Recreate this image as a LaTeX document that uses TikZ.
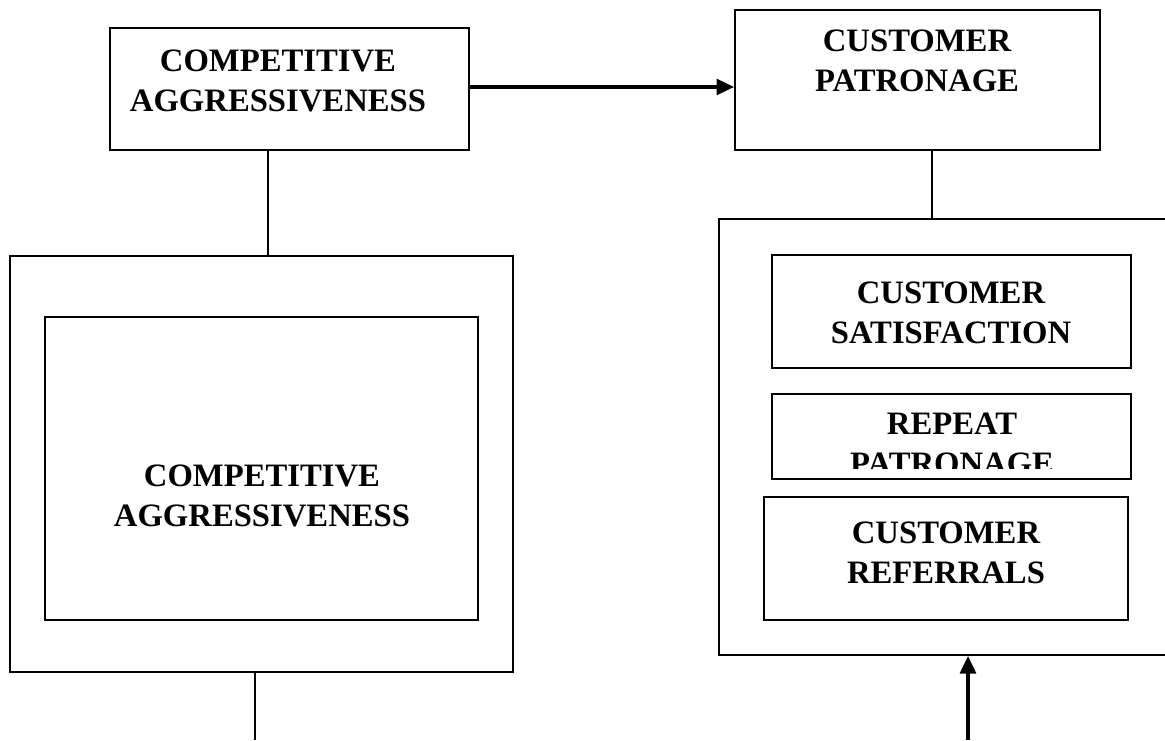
\documentclass[tikz,border=0pt]{standalone}
\usepackage{fontspec}
\setmainfont{Liberation Serif}
\usepackage{tikz}
\usetikzlibrary{arrows.meta,positioning}

\begin{document}
\begin{tikzpicture}[x=0.02cm,y=-0.02cm,>={Triangle[length=10pt,width=9pt]},
  box/.style={draw,rectangle,line width=1.1pt,inner sep=0pt},
  txt/.style={font=\fontsize{18.6}{22.5}\selectfont\bfseries,align=center,anchor=north,inner sep=0pt},
  link/.style={line width=1.1pt},
  flow/.style={->,line width=2pt}]
  \useasboundingbox (0,0) rectangle (1165,740);
  \clip (0,0) rectangle (1165,740);
  % boxes
  \node[box,minimum width=7.18cm,minimum height=2.44cm] (CA)   at (289.5,89)  {};
  \node[box,minimum width=7.3cm,minimum height=2.8cm]   (CP)   at (917.5,80)  {};
  \node[box,minimum width=10.06cm,minimum height=8.32cm] (outL) at (261.5,464) {};
  \node[box,minimum width=8.66cm,minimum height=6.06cm]  (inL)  at (261.5,468.5) {};
  \node[box,minimum width=9.92cm,minimum height=8.72cm]  (outR) at (967,437)   {};
  \node[box,minimum width=7.18cm,minimum height=2.26cm]  (CS)   at (951.5,311.5) {};
  \node[box,minimum width=7.18cm,minimum height=1.7cm]   (RP)   at (951.5,436.5) {};
  \node[box,minimum width=7.28cm,minimum height=2.46cm]  (CR)   at (946,558.5) {};
  % texts
  \node[txt] (CAt)  at (278,50)  {COMPETITIVE\\AGGRESSIVENESS};
  \node[txt] (CPt)  at (917,30)  {CUSTOMER\\PATRONAGE};
  \node[txt] (inLt) at (262,465) {COMPETITIVE\\AGGRESSIVENESS};
  \node[txt] (CSt)  at (951,282) {CUSTOMER\\SATISFACTION};
  \begin{scope}
    \clip (772,394) rectangle (1131,468);
    \node[txt] (RPt) at (952,413) {REPEAT\\PATRONAGE};
  \end{scope}
  \node[txt] (CRt)  at (946,522) {CUSTOMER\\REFERRALS};
  % connectors
  \coordinate (b1) at (255,740);
  \coordinate (b2) at (968,740);
  \draw[flow] ([yshift=0.04cm]CA.east) -- ([yshift=0.04cm]CA.east -| CP.west);
  \draw[link] ([xshift=-0.43cm]CA.south) -- ([xshift=-0.43cm]CA.south |- outL.north);
  \draw[link] ([xshift=0.29cm]CP.south) -- ([xshift=0.29cm]CP.south |- outR.north);
  \draw[link] (outL.south -| b1) -- (b1);
  \draw[flow] (b2) -- (b2 |- outR.south);
\end{tikzpicture}
\end{document}
